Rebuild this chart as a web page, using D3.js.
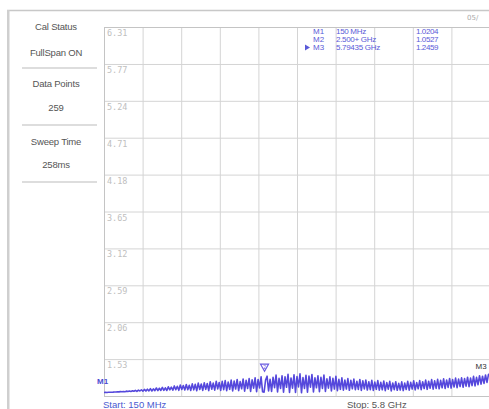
<!DOCTYPE html>
<html><head><meta charset="utf-8">
<script src="https://cdn.jsdelivr.net/npm/d3@7"></script>
<style>
html,body{margin:0;padding:0;background:#fff;overflow:hidden;}
svg{display:block;}
</style></head>
<body>
<script>
// ---- data ----
const startGHz = 0.15, stopGHz = 5.8;
const yTickLabels = ["6.31","5.77","5.24","4.71","4.18","3.65","3.12","2.59","2.06","1.53"];
const yTickValues = [6.31,5.778,5.248,4.717,4.186,3.655,3.124,2.593,2.062,1.531];
const xDivisions = [0,1,2,3,4,5,6,7,8,9,10];
const panelLabels = ["Cal Status","FullSpan ON","Data Points","259","Sweep Time","258ms"];
const markerNames = ["M1","M2","M3"];
const markerFreqText = ["150 MHz","2.500+ GHz","5.79435 GHz"];
const markerValText = ["1.0204","1.0527","1.2459"];
const markerFreqs = [0.15, 2.5, 5.79435];
const vswr = [
1.050,1.052,1.051,1.054,1.053,1.055,1.056,1.058,1.057,1.060,1.059,1.063,1.061,1.065,1.062,1.070,1.064,1.072,1.066,1.074,
1.068,1.082,1.066,1.084,1.072,1.090,1.070,1.095,1.071,1.098,1.074,1.106,1.072,1.103,1.076,1.115,1.078,1.112,1.080,1.124,
1.082,1.118,1.079,1.132,1.088,1.128,1.084,1.145,1.090,1.140,1.082,1.158,1.094,1.150,1.086,1.166,1.090,1.155,1.080,1.175,
1.088,1.168,1.076,1.185,1.094,1.172,1.080,1.190,1.096,1.180,1.078,1.205,1.098,1.186,1.084,1.212,1.102,1.195,1.080,1.210,
1.092,1.222,1.076,1.200,1.096,1.230,1.072,1.215,1.100,1.238,1.078,1.208,1.104,1.245,1.070,1.226,1.108,1.250,1.066,1.232,
1.112,1.262,1.062,1.238,1.116,1.275,1.060,1.055,1.230,1.285,1.074,1.240,1.066,1.268,1.120,1.300,1.060,1.255,1.108,1.290,
1.056,1.275,1.125,1.312,1.052,1.260,1.112,1.305,1.050,1.280,1.130,1.320,1.046,1.265,1.110,1.298,1.054,1.288,1.126,1.310,
1.058,1.262,1.118,1.290,1.062,1.270,1.108,1.300,1.066,1.248,1.114,1.276,1.072,1.255,1.100,1.282,1.078,1.240,1.096,1.262,
1.084,1.230,1.100,1.252,1.082,1.226,1.104,1.244,1.090,1.212,1.094,1.238,1.080,1.218,1.102,1.230,1.086,1.205,1.092,1.226,
1.080,1.200,1.096,1.222,1.084,1.196,1.090,1.214,1.076,1.192,1.098,1.210,1.074,1.188,1.092,1.206,1.082,1.182,1.086,1.204,
1.078,1.186,1.094,1.210,1.084,1.196,1.100,1.218,1.088,1.192,1.104,1.222,1.092,1.206,1.108,1.230,1.096,1.212,1.112,1.236,
1.098,1.218,1.110,1.240,1.104,1.226,1.118,1.246,1.108,1.230,1.124,1.252,1.114,1.236,1.130,1.258,1.120,1.244,1.136,1.262,
1.126,1.250,1.142,1.270,1.134,1.258,1.150,1.282,1.146,1.268,1.162,1.292,1.170,1.284,1.182,1.302,1.196,1.312,1.296
];

// ---- layout ----
const W = 489, H = 409;
const svg = d3.select("body").append("svg").attr("width", W).attr("height", H);

const plot = {left:104, right:490, top:27, bottom:396};
const x = d3.scaleLinear().domain([startGHz, stopGHz]).range([plot.left, plot.right]);
const y = d3.scaleLinear().domain([1.0, 6.31]).range([plot.bottom, plot.top]);
const xDiv = d3.scaleLinear().domain([0,10]).range([plot.left, plot.right]);

// outer frame
svg.append("line").attr("x1",7).attr("x2",W).attr("y1",10.5).attr("y2",10.5).attr("stroke","#c8c8c8").attr("stroke-width",1.5);
svg.append("rect").attr("x",7).attr("y",10).attr("width",2.5).attr("height",H-10).attr("fill","#cfcfcf");
svg.append("text").attr("x",467).attr("y",20).attr("font-family","DejaVu Sans").attr("font-size",7).attr("fill","#aaa").text("05/");

// left panel
const panelY = [30,56,87,111,145,168];
svg.selectAll("text.panel").data(panelLabels).join("text").attr("class","panel")
  .attr("x",56).attr("y",(d,i)=>panelY[i]).attr("text-anchor","middle")
  .attr("font-family","Liberation Sans, Arial").attr("font-size",9.5).attr("fill","#555")
  .attr("letter-spacing",-0.2).text(d=>d);
[68,125,182].forEach(yy=>{
  svg.append("line").attr("x1",22).attr("x2",97).attr("y1",yy).attr("y2",yy).attr("stroke","#bbb").attr("stroke-width",1);
});

// grid
const g = svg.append("g");
g.append("g").attr("transform",`translate(${plot.left},0)`)
  .call(d3.axisLeft(y).tickValues(yTickValues.concat([1.0])).tickSize(-(plot.right-plot.left)).tickFormat(""))
  .call(s=>s.select(".domain").remove())
  .call(s=>s.selectAll(".tick line").attr("stroke","#d4d4d4").attr("stroke-width",1));
g.append("g").attr("transform",`translate(0,${plot.bottom})`)
  .call(d3.axisBottom(xDiv).tickValues(xDivisions).tickSize(-(plot.bottom-plot.top)).tickFormat(""))
  .call(s=>s.select(".domain").remove())
  .call(s=>s.selectAll(".tick line").attr("stroke","#d4d4d4").attr("stroke-width",1));
svg.append("rect").attr("x",plot.left+0.5).attr("y",plot.top+0.5).attr("width",plot.right-plot.left).attr("height",plot.bottom-plot.top)
  .attr("fill","none").attr("stroke","#c4c4c4");

// y tick labels
svg.selectAll("text.ytl").data(yTickLabels).join("text").attr("class","ytl")
  .attr("x",plot.left+3).attr("y",(d,i)=>y(yTickValues[i])+9)
  .attr("font-family","DejaVu Sans Mono").attr("font-size",8.5).attr("fill","#c0c0c0")
  .text(d=>d);

// marker table
const rowsY = [34,42,50];
const blue = "#5a5ad8";
markerNames.forEach((m,i)=>{
  svg.append("text").attr("x",313).attr("y",rowsY[i]).attr("font-family","Liberation Sans, Arial").attr("font-size",8).attr("fill",blue).text(m);
  svg.append("text").attr("x",336).attr("y",rowsY[i]).attr("font-family","Liberation Sans, Arial").attr("font-size",8).attr("letter-spacing",-0.3).attr("fill",blue).text(markerFreqText[i]);
  svg.append("text").attr("x",416).attr("y",rowsY[i]).attr("font-family","Liberation Sans, Arial").attr("font-size",8).attr("letter-spacing",-0.4).attr("fill",blue).text(markerValText[i]);
});
svg.append("path").attr("d","M305,44.5 L310,47.5 L305,50.5 Z").attr("fill",blue);

// trace
const freqs = vswr.map((v,i)=> startGHz + (stopGHz-startGHz)*i/(vswr.length-1));
const line = d3.line().x((d,i)=>x(freqs[i])).y(d=>y(d));
svg.append("path").datum(vswr).attr("d",line).attr("fill","none")
  .attr("stroke","#5548dc").attr("stroke-width",1.6).attr("stroke-linejoin","round");

// markers on trace
const idx = f => Math.round((f-startGHz)/(stopGHz-startGHz)*(vswr.length-1));
// M1
svg.append("text").attr("x",97).attr("y",384).attr("font-family","Liberation Sans, Arial").attr("font-size",8).attr("font-weight","bold").attr("fill","#4a4ad0").text("M1");
// M2 marker triangle
const m2x = x(markerFreqs[1]), m2y = y(vswr[idx(markerFreqs[1])]) - 28;
svg.append("path").attr("d",`M${m2x-4},${m2y} L${m2x+4},${m2y} L${m2x},${m2y+7} Z`).attr("fill","none").attr("stroke","#6a5ae0").attr("stroke-width",1.2);
svg.append("text").attr("x",m2x).attr("y",m2y+5).attr("text-anchor","middle").attr("font-family","Liberation Sans, Arial").attr("font-size",5).attr("fill","#6a5ae0").text("2");
// M3
svg.append("text").attr("x",x(markerFreqs[2])-14).attr("y",369).attr("font-family","Liberation Sans, Arial").attr("font-size",8).attr("fill","#333").text("M3");

// start / stop
svg.append("text").attr("x",103).attr("y",408).attr("font-family","Liberation Sans, Arial").attr("font-size",9.5).attr("fill","#4a5ad0").text("Start: 150 MHz");
svg.append("text").attr("x",347).attr("y",408).attr("font-family","Liberation Sans, Arial").attr("font-size",9.5).attr("fill","#555").text("Stop: 5.8 GHz");
</script>
</body></html>
